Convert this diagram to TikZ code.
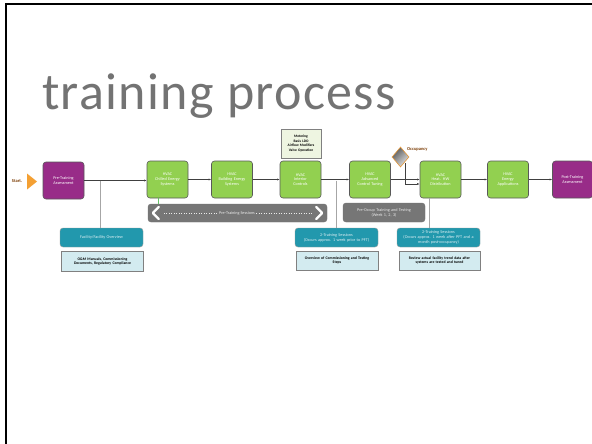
\documentclass[tikz,border=0pt]{standalone}
\usepackage{fontspec}
\setmainfont{Carlito}
\newfontfamily\titlefont[LetterSpace=2.6]{Carlito}
\usetikzlibrary{shapes.geometric,arrows.meta,calc}
\definecolor{procgreen}{HTML}{92D050}
\definecolor{assesspurple}{HTML}{982C88}
\definecolor{tealbox}{HTML}{2298AD}
\definecolor{notefill}{HTML}{D3EBF0}
\definecolor{bargray}{HTML}{767676}
\definecolor{titlegray}{HTML}{737373}
\definecolor{startbrown}{HTML}{7A3A00}
\definecolor{startorange}{HTML}{F4A033}
\definecolor{meterfill}{HTML}{EEF5E1}
\tikzset{
  tiny/.style={font=\fontsize{4.2}{4.8}\selectfont},
  procbox/.style={tiny, draw=black!65, line width=0.6pt, fill=procgreen, rounded corners=3pt,
    minimum width=41pt, minimum height=37pt, text width=38pt, align=center, text=white, inner sep=1pt},
  assessbox/.style={procbox, fill=assesspurple},
  tealnode/.style={tiny, draw=black!40, fill=tealbox, rounded corners=3pt, minimum width=83pt,
    minimum height=19pt, text width=80pt, align=center, text=white!85!tealbox, inner sep=1pt},
  notebox/.style={tiny, font=\fontsize{3.8}{4.6}\selectfont\bfseries, draw=black!50, line width=0.5pt, fill=notefill,
    minimum width=82pt, minimum height=20pt, text width=78pt, align=center, text=black, inner sep=1pt},
  graybox/.style={tiny, draw=black!55, fill=bargray, rounded corners=3pt, minimum width=82pt,
    minimum height=19pt, text width=78pt, align=center, text=white!85!bargray, inner sep=1pt},
  flow/.style={draw=black!75, line width=0.5pt, -{Latex[length=2.5pt,width=2pt]}},
  drop/.style={draw=black!35, line width=0.9pt},
}
\begin{document}
\begin{tikzpicture}[x=1pt,y=-1pt]
\useasboundingbox (0,0) rectangle (592,444);
\fill[white] (0,0) rectangle (592,444);
% slide frame
\draw[black, line width=2pt] (6,444) -- (6,4.5) -- (592,4.5);
% title
\node[anchor=base west, inner sep=0pt, text=titlegray, font=\titlefont\fontsize{52}{60}\selectfont] (title) at (42,110) {training process};

% start
\node[font=\fontsize{4.5}{5}\selectfont\bfseries, text=startbrown, inner sep=0pt] (start) at (17,181) {Start.};
\fill[startorange] (27,173.5) -- (37,181.5) -- (27,189.5) -- cycle;

% main process
\node[assessbox] (pre) at (63.5,180.5) {Pre-Training\\Assessment};
\node[procbox] (g1) at (167.5,179.5) {HVAC\\Chilled Energy\\Systems};
\node[procbox] (g2) at (232,179.5) {HVAC\\Building Energy\\Systems};
\node[procbox] (g3) at (300.5,179.5) {HVAC\\Interior\\Controls};
\node[procbox] (g4) at (370,179.5) {HVAC\\Advanced\\Control Tuning};
\node[procbox] (g5) at (440.5,179.5) {HVAC\\Heat. HW\\Distribution};
\node[procbox] (g6) at (508,179.5) {HVAC\\Energy\\Applications};
\node[assessbox, minimum width=40pt] (post) at (572.5,179.5) {Post-Training\\Assessment};

\draw[flow] (pre.east |- 0,180.5) -- (g1.west |- 0,180.5);
\draw[flow] (g1) -- (g2);
\draw[flow] (g2) -- (g3);
\draw[flow] (g3) -- (g4);
\draw[flow] (g4) -- (g5);
\draw[flow] (g5) -- (g6);
\draw[flow] (g6) -- (post);

% metering note
\node[notebox, minimum width=40pt, minimum height=29pt, text width=38pt, fill=meterfill, font=\fontsize{3.6}{4.6}\selectfont\bfseries] (meter) at (301,143.5) {Metering\\Basis LDO\\Airflow Modifiers\\Valve Operation};

% occupancy decision
\node[diamond, draw=startorange!70!brown, line width=0.6pt, left color=black!65, right color=black!10, shading angle=45,
  minimum width=17pt, minimum height=20pt, inner sep=0pt] (occ) at (400.5,157) {};
\node[anchor=west, font=\fontsize{4.5}{5}\selectfont\bfseries, text=startbrown, inner sep=0pt] (occlbl) at (407,149) {Occupancy};
\coordinate (occout) at (405.5,163);
\draw[flow] (occout) |- ($(g5.west)+(0,4.5)$);

% left branch
\node[tealnode] (t1) at (101.5,237.5) {Facility/Facility Overview};
\node[notebox] (n1) at (102.5,261.5) {O\&M Manuals, Commissioning\\Documents, Regulatory Compliance};
\coordinate (b1) at (100,180.5);
\draw[drop] (b1) -- (t1.north -| b1);

% pre-training bar
\node[tiny, draw=black!55, fill=bargray, rounded corners=3pt, minimum width=179pt, minimum height=18pt, inner sep=0pt] (bar) at (237.5,213) {};
\node[tiny, text=white!85!bargray, fill=bargray, inner sep=1pt] (barlbl) at (237,213) {Pre-Training Sessions};
\draw[white, line width=2.2pt, line cap=round, line join=round] ($(bar.west)+(11,-6)$) -- ($(bar.west)+(5,0)$) -- ($(bar.west)+(11,6)$);
\draw[white, line width=2.2pt, line cap=round, line join=round] ($(bar.east)+(-11,-6)$) -- ($(bar.east)+(-5,0)$) -- ($(bar.east)+(-11,6)$);
\draw[white!85!bargray, line width=0.5pt, dotted] ($(bar.west)+(16,0)$) -- (barlbl.west);
\draw[white!85!bargray, line width=0.5pt, dotted] (barlbl.east) -- ($(bar.east)+(-16,0)$);
\draw[green!60!black!60, line width=0.8pt] (g1.south -| 158,0) -- (bar.north -| 158,0);

% middle branch
\node[graybox] (gb) at (384,212.5) {Pre-Occup Training and Testing\\(Week 1, 2, 3)};
\node[tealnode] (t2) at (336.5,237.5) {2-Training Sessions\\(Occurs approx. 1 week prior to PFT)};
\node[notebox, minimum height=19pt] (n2) at (337,260.5) {Overview of Commissioning and Testing\\Steps};
\coordinate (b2) at (336,180.5);
\draw[drop] (b2) -- (t2.north -| b2);

% right branch
\node[tealnode] (t3) at (438.5,237.5) {2-Training Sessions\\(Occurs approx. 1 week after PFT and a\\month post-occupancy)};
\node[notebox, minimum width=81pt, minimum height=19pt] (n3) at (439.5,260.5) {Review actual facility trend data after\\systems are tested and tuned};
\draw[drop] (g5.south -| 429,0) -- (t3.north -| 429,0);
\end{tikzpicture}
\end{document}
